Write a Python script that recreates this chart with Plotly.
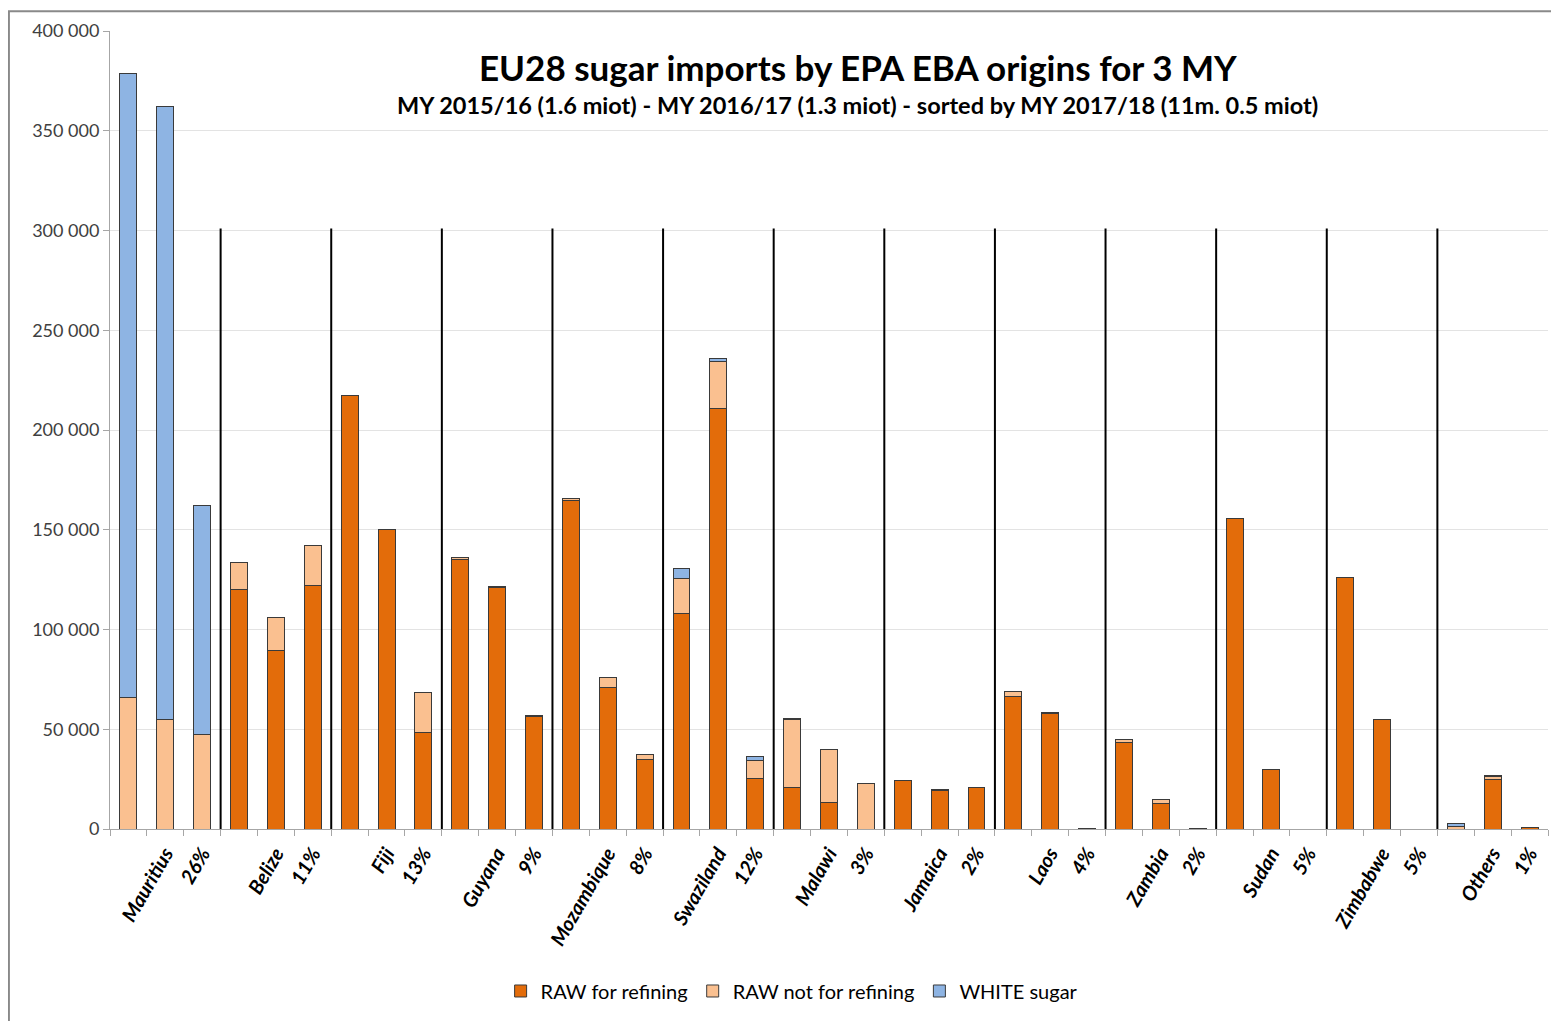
import plotly.graph_objects as go

countries = ["Mauritius", "Belize", "Fiji", "Guyana", "Mozambique", "Swaziland", "Malawi",
             "Jamaica", "Laos", "Zambia", "Sudan", "Zimbabwe", "Others"]
shares = ["26%", "11%", "13%", "9%", "8%", "12%", "3%", "2%", "4%", "2%", "5%", "5%", "1%"]
years = ["MY 2015/16", "MY 2016/17", "MY 2017/18"]

# values per country: [2015/16, 2016/17, 2017/18]
raw_refining = [
    0, 0, 0,                  # Mauritius
    120200, 89500, 122200,    # Belize
    217100, 150200, 48300,    # Fiji
    135300, 121000, 56500,    # Guyana
    164700, 71000, 34900,     # Mozambique
    107900, 211000, 25400,    # Swaziland
    20800, 13400, 0,          # Malawi
    24100, 19300, 20800,      # Jamaica
    66600, 58000, 300,        # Laos
    43200, 12900, 300,        # Zambia
    155500, 29900, 0,         # Sudan
    126300, 54900, 0,         # Zimbabwe
    0, 24700, 800,            # Others
]
raw_not_refining = [
    66100, 54800, 47200,
    13300, 16400, 20100,
    0, 0, 20300,
    800, 700, 300,
    1000, 4900, 2600,
    17900, 23100, 9000,
    34300, 26500, 22800,
    0, 300, 0,
    2500, 600, 0,
    1500, 1700, 0,
    0, 0, 0,
    0, 0, 0,
    1300, 1500, 0,
]
white_sugar = [
    312400, 307200, 114800,
    0, 0, 0,
    0, 0, 0,
    0, 0, 0,
    0, 0, 0,
    4700, 1500, 2100,
    300, 100, 200,
    0, 0, 0,
    0, 0, 0,
    0, 0, 0,
    0, 0, 0,
    0, 0, 0,
    1500, 400, 0,
]
separator_top = 301000

n_per = len(years)
n = len(countries) * n_per
xpos = list(range(n))
labels = []
for c, s in zip(countries, shares):
    labels += ["", c, s]

ORANGE = "#E36C0A"
LIGHT = "#FAC090"
BLUE = "#8EB4E3"
EDGE = "#3a3a3a"

fig = go.Figure()
for name, vals, col in [("RAW for refining", raw_refining, ORANGE),
                        ("RAW not for refining", raw_not_refining, LIGHT),
                        ("WHITE sugar", white_sugar, BLUE)]:
    fig.add_trace(go.Bar(x=xpos, y=vals, name=name,
                         marker=dict(color=col, line=dict(color=EDGE, width=1))))

# group separators
for g in range(1, len(countries)):
    xb = g * n_per - 0.5
    fig.add_shape(type="line", xref="x", yref="y", x0=xb, x1=xb, y0=0, y1=separator_top,
                  line=dict(color="black", width=2), layer="above")

# outer chart frame
fig.add_shape(type="rect", xref="paper", yref="paper",
              x0=-0.0703, x1=1.2, y0=-0.4, y1=1.0249,
              line=dict(color="#898989", width=2), layer="below")

FONT = "Lato, 'Open Sans', sans-serif"
fig.add_annotation(text="<b>EU28 sugar imports by EPA EBA origins for 3 MY</b>",
                   xref="paper", yref="paper", x=0.52, y=0.955, showarrow=False,
                   font=dict(size=35, color="black", family=FONT), xanchor="center", yanchor="middle")
fig.add_annotation(text="<b>MY 2015/16 (1.6 miot) - MY 2016/17 (1.3 miot) - sorted by MY 2017/18 (11m. 0.5 miot)</b>",
                   xref="paper", yref="paper", x=0.52, y=0.907, showarrow=False,
                   font=dict(size=23.5, color="black", family=FONT), xanchor="center", yanchor="middle")

fig.update_layout(
    width=1551, height=1013,
    margin=dict(l=102, r=11, t=21, b=189),
    paper_bgcolor="white", plot_bgcolor="white",
    barmode="stack", bargap=0.54,
    separators=", ",
    font=dict(family=FONT, color="#000000"),
    showlegend=True,
    legend=dict(orientation="h", x=0.474, xanchor="center", y=-0.203, yanchor="middle",
                traceorder="normal",
                font=dict(size=20, color="black", family=FONT), tracegroupgap=0),
    xaxis=dict(range=[-0.5, n - 0.5], tickvals=xpos, ticktext=labels, tickangle=-60,
               ticks="", showgrid=False, showline=True, linecolor="#A6A6A6", linewidth=1,
               ticklabelstandoff=4,
               tickfont=dict(size=20, color="black", family=FONT, weight="bold", style="italic"),
               minor=dict(tickvals=[i - 0.5 for i in range(n + 1)], ticks="outside",
                          ticklen=6, tickcolor="#A6A6A6", showgrid=False),
               zeroline=False, fixedrange=True),
    yaxis=dict(range=[0, 400000], dtick=50000, tickformat=",d", showgrid=True,
               gridcolor="#E3E3E3", gridwidth=1, showline=True, linecolor="#A6A6A6",
               ticks="outside", ticklen=6, tickcolor="#A6A6A6",
               tickfont=dict(size=18, color="#404040", family=FONT), zeroline=False),
)

fig.write_html("out.html")
